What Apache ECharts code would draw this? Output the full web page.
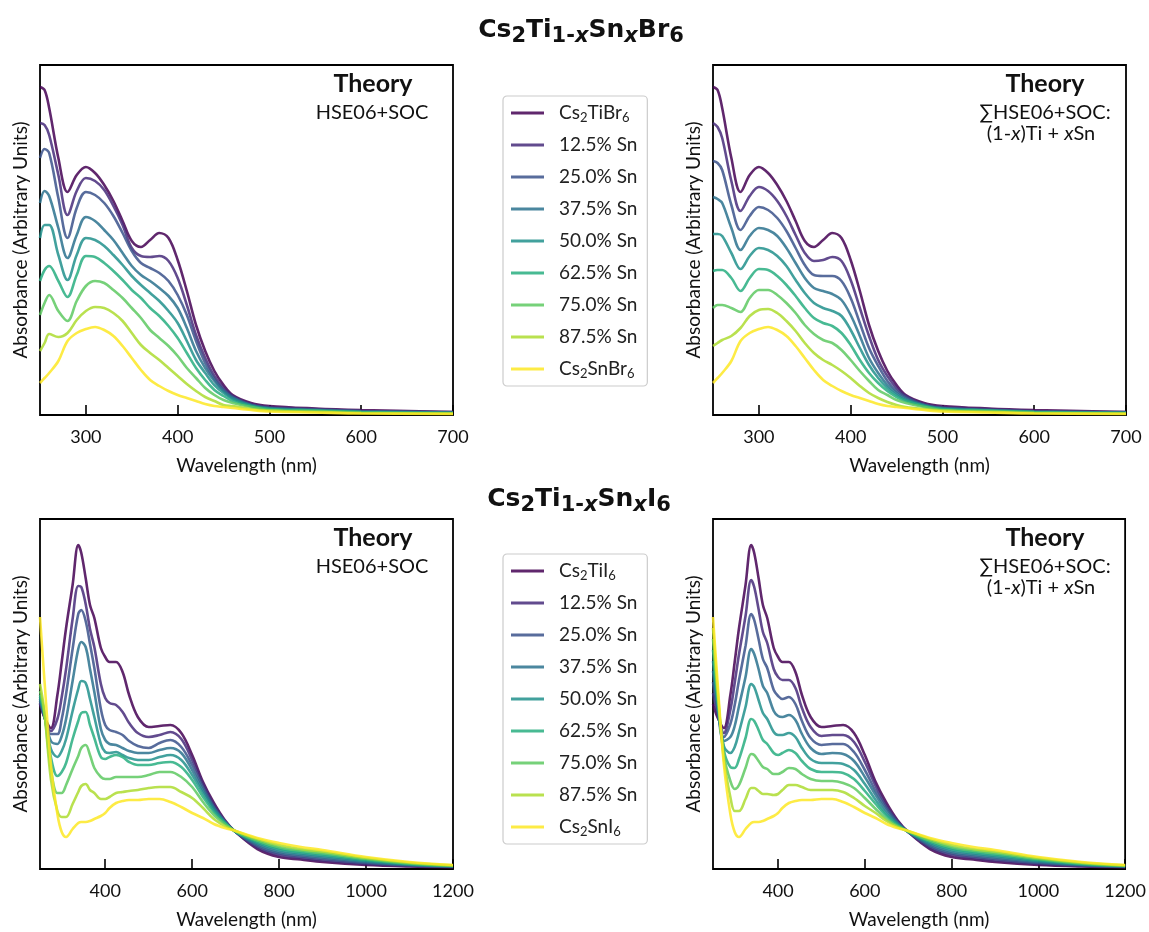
<!DOCTYPE html>
<html>
<head>
<meta charset="utf-8">
<script src="https://cdn.jsdelivr.net/npm/echarts@6/dist/echarts.min.js"></script>
<style>
html, body { margin: 0; padding: 0; background: #fff; }
#chart { width: 1149px; height: 932px; }
</style>
</head>
<body>
<div id="chart"></div>
<script>
// wavelength grids (nm)
var wlBr = [250, 255, 260, 270, 280, 290, 300, 310, 320, 330, 340, 350, 360, 370, 380, 390, 400, 410, 420, 430, 440, 450, 460, 480, 500, 550, 600, 700];
var wlI = [250, 260, 275, 290, 300, 310, 325, 338, 345, 355, 365, 375, 390, 400, 410, 425, 440, 455, 475, 500, 525, 550, 575, 600, 625, 650, 675, 700, 750, 800, 850, 900, 1000, 1100, 1200];

var brNames = ['Cs2TiBr6', '12.5% Sn', '25.0% Sn', '37.5% Sn', '50.0% Sn', '62.5% Sn', '75.0% Sn', '87.5% Sn', 'Cs2SnBr6'];
var iNames = ['Cs2TiI6', '12.5% Sn', '25.0% Sn', '37.5% Sn', '50.0% Sn', '62.5% Sn', '75.0% Sn', '87.5% Sn', 'Cs2SnI6'];

var xTicksBr = [300, 400, 500, 600, 700];
var xTicksI = [400, 600, 800, 1000, 1200];

// absorbance, arbitrary units, one row per composition (Ti -> Sn)
var brHse = [
    [328, 325, 307, 257, 223, 240, 248, 242, 230, 214, 194, 174, 168, 175, 182, 177, 155, 124, 90, 64, 44, 30, 20, 12, 9, 6.5, 5, 3],
    [292, 290, 280, 240, 200, 224, 237, 234, 225, 209, 190, 167, 159, 158, 159, 154, 137, 110, 80, 57, 39, 27, 19, 11, 8, 6, 4, 3],
    [257, 266, 262, 217, 177, 207, 223, 220, 212, 199, 182, 164, 152, 147, 142, 134, 120, 100, 74, 52, 36, 25, 18, 10, 7, 5.5, 4, 2.5],
    [212, 224, 219, 187, 157, 180, 198, 194, 185, 175, 162, 149, 140, 134, 127, 119, 107, 87, 64, 47, 34, 24, 17, 10, 7, 5, 3.5, 2.5],
    [177, 190, 190, 160, 135, 160, 177, 175, 169, 160, 150, 139, 130, 122, 114, 104, 92, 74, 55, 42, 30, 22, 16, 9, 6, 4.5, 3, 2],
    [134, 145, 149, 134, 118, 140, 159, 158, 152, 144, 135, 125, 117, 107, 99, 89, 77, 62, 47, 35, 25, 19, 14, 9, 6, 4.5, 3, 2],
    [100, 112, 120, 104, 94, 114, 129, 134, 132, 125, 117, 107, 97, 85, 77, 69, 59, 47, 37, 27, 20, 15, 12, 8, 5, 4, 2.5, 1.5],
    [64, 72, 81, 78, 82, 95, 104, 108, 107, 102, 94, 82, 70, 62, 55, 47, 39, 31, 24, 18, 14, 10, 9, 6, 4.5, 3, 2, 1.5],
    [32, 37, 42, 54, 74, 82, 86, 88, 85, 79, 69, 57, 45, 35, 29, 24, 20, 17, 14, 11, 9, 8, 7, 5, 3.5, 2.5, 1.5, 1]
];

var brSum = [
    [328, 325, 307, 257, 223, 240, 248, 242, 230, 214, 194, 174, 168, 175, 182, 177, 155, 124, 90, 64, 44, 30, 20, 12, 9, 6.5, 5, 3],
    [292, 288, 277, 234, 204, 219, 228, 224, 214, 199, 180, 162, 154, 155, 158, 154, 135, 107, 79, 55, 39, 27, 19, 11, 8, 6, 4, 3],
    [254, 252, 245, 210, 185, 199, 208, 205, 197, 184, 167, 150, 140, 139, 139, 134, 117, 92, 67, 49, 34, 24, 18, 10, 7, 5, 3.5, 2.5],
    [218, 216, 212, 187, 165, 179, 187, 185, 179, 167, 152, 137, 127, 124, 121, 115, 100, 79, 57, 42, 30, 22, 16, 10, 7, 5, 3.5, 2.5],
    [181, 181, 179, 162, 146, 159, 167, 165, 159, 149, 135, 122, 112, 107, 104, 99, 85, 67, 50, 37, 27, 20, 15, 9, 6, 4.5, 3, 2],
    [144, 145, 145, 137, 124, 137, 146, 145, 139, 130, 119, 107, 97, 92, 89, 82, 70, 55, 42, 32, 24, 18, 14, 9, 6, 4.5, 3, 2],
    [107, 110, 110, 107, 103, 117, 125, 125, 120, 112, 102, 90, 81, 75, 72, 65, 55, 44, 34, 25, 20, 15, 12, 8, 5, 4, 2.5, 1.5],
    [69, 72, 75, 79, 87, 99, 105, 106, 102, 94, 84, 72, 62, 55, 50, 44, 37, 29, 22, 17, 13, 10, 8, 6, 4.5, 3, 2, 1.5],
    [32, 37, 42, 54, 74, 82, 86, 88, 85, 79, 69, 57, 45, 35, 29, 24, 20, 17, 14, 11, 9, 8, 7, 5, 3.5, 2.5, 1.5, 1]
];

var iHse = [
    [165, 152, 141, 174, 207, 241, 284, 324, 316, 291, 264, 251, 221, 212, 207, 207, 197, 174, 152, 142, 143, 144, 136, 114, 87, 66, 49, 37, 20, 12, 9.5, 7, 4, 2.5, 1.7],
    [166, 152, 138, 150, 172, 200, 250, 283, 282, 265, 240, 222, 185, 171, 166, 164, 157, 146, 136, 132, 134, 137, 130, 109, 85, 64, 48, 37, 21.5, 14, 11, 8.5, 5, 3, 2],
    [168, 153, 135, 135, 150, 175, 220, 255, 259, 248, 225, 201, 160, 144, 139, 137, 134, 128, 123, 121, 126, 129, 122, 104, 82, 62, 48, 37, 23, 15.5, 12.5, 10, 6, 3.5, 2.2],
    [170, 153, 128, 125, 133, 150, 188, 220, 227, 222, 200, 177, 140, 129, 125, 124, 121, 118, 116, 116, 119, 121, 116, 99, 79, 61, 47, 37, 24.5, 17, 14, 11.5, 7, 4, 2.5],
    [172, 154, 120, 112, 118, 130, 158, 180, 188, 186, 170, 152, 125, 117, 116, 117, 114, 111, 109, 109, 112, 114, 109, 94, 76, 59, 47, 37, 26, 19, 15.5, 13, 8, 4.5, 2.8],
    [174, 155, 112, 93, 97, 106, 130, 148, 156, 157, 144, 131, 112, 110, 112, 114, 112, 107, 104, 104, 106, 107, 102, 89, 72, 57, 46, 37.5, 27.5, 20.5, 17, 14.5, 9, 5, 3],
    [178, 156, 100, 76, 76, 84, 100, 113, 121, 124, 114, 101, 92, 90, 90, 92, 92, 92, 92, 94, 97, 97, 92, 82, 67, 54, 45, 37.5, 28.5, 22, 18.5, 16, 10, 5.5, 3.3],
    [185, 158, 90, 58, 52, 52, 65, 77, 83, 85, 79, 76, 70, 70, 72, 76, 77, 78, 79, 81, 82, 82, 77, 71, 61, 50, 43, 38, 30, 24, 20, 17.5, 11, 6.3, 3.6],
    [252, 190, 105, 55, 37, 32, 40, 46, 47, 47, 48, 50, 53, 56, 61, 66, 68, 69, 69, 70, 70, 67, 62, 56, 51, 45, 41, 38, 31, 26, 22, 19, 12, 7, 4]
];

var iSum = [
    [165, 152, 141, 174, 207, 241, 284, 324, 316, 291, 264, 251, 221, 212, 207, 207, 197, 174, 152, 142, 143, 144, 136, 114, 87, 66, 49, 37, 20, 12, 9.5, 7, 4, 2.5, 1.7],
    [176, 156, 136, 159, 186, 215, 253, 289, 282, 260, 237, 226, 200, 192, 189, 189, 181, 161, 142, 133, 134, 134, 127, 107, 83, 63, 48, 37, 21.5, 14, 11, 8.5, 5, 3, 2],
    [187, 160, 132, 145, 164, 189, 223, 255, 249, 230, 210, 201, 179, 173, 170, 172, 165, 148, 131, 124, 125, 125, 117, 99, 78, 61, 47, 37, 23, 15.5, 12.5, 10, 6, 3.5, 2.2],
    [198, 165, 128, 132, 143, 163, 192, 220, 215, 200, 183, 176, 158, 153, 152, 154, 149, 135, 121, 115, 116, 115, 108, 92, 74, 58, 46, 37, 24.5, 17, 14, 11.5, 7, 4, 2.5],
    [208, 169, 123, 116, 122, 137, 162, 185, 182, 169, 156, 150, 137, 134, 134, 136, 132, 121, 110, 106, 106, 105, 99, 85, 69, 55, 45, 37, 26, 19, 15.5, 13, 8, 4.5, 2.8],
    [219, 173, 119, 102, 101, 110, 131, 150, 148, 139, 129, 125, 116, 114, 116, 119, 116, 108, 100, 97, 97, 96, 90, 78, 65, 53, 44, 37.5, 27.5, 20.5, 17, 14.5, 9, 5, 3],
    [230, 177, 114, 88, 80, 84, 101, 115, 114, 108, 102, 100, 95, 95, 97, 101, 100, 95, 90, 88, 88, 86, 81, 71, 60, 50, 43, 37.5, 28.5, 22, 18.5, 16, 10, 5.5, 3.3],
    [241, 182, 110, 72, 58, 58, 70, 81, 81, 78, 75, 75, 74, 75, 79, 84, 84, 82, 79, 79, 79, 77, 71, 63, 56, 48, 42, 38, 30, 24, 20, 17.5, 11, 6.3, 3.6],
    [252, 190, 105, 55, 37, 32, 40, 46, 47, 47, 48, 50, 53, 56, 61, 66, 68, 69, 69, 70, 70, 67, 62, 56, 51, 45, 41, 38, 31, 26, 22, 19, 12, 7, 4]
];

// viridis, 9 steps, drawn at alpha 0.85
var colors = [
    'rgba(68,1,84,0.85)', 'rgba(71,44,122,0.85)', 'rgba(59,82,139,0.85)',
    'rgba(44,114,142,0.85)', 'rgba(33,145,140,0.85)', 'rgba(40,174,128,0.85)',
    'rgba(94,201,98,0.85)', 'rgba(173,220,48,0.85)', 'rgba(253,231,37,0.85)'
];

var font = 'Lato, "DejaVu Sans", sans-serif';
var titleFont = '"DejaVu Sans", sans-serif';

var legendLabels = {
    'Cs2TiBr6': 'Cs{s|2}TiBr{s|6}',
    'Cs2SnBr6': 'Cs{s|2}SnBr{s|6}',
    'Cs2TiI6': 'Cs{s|2}TiI{s|6}',
    'Cs2SnI6': 'Cs{s|2}SnI{s|6}'
};

var panels = [
    { wl: wlBr, rows: brHse, names: brNames, left: 40, top: 65, min: 250, max: 700, ticks: xTicksBr },
    { wl: wlBr, rows: brSum, names: brNames, left: 713, top: 65, min: 250, max: 700, ticks: xTicksBr },
    { wl: wlI, rows: iHse, names: iNames, left: 40, top: 519, min: 250, max: 1200, ticks: xTicksI },
    { wl: wlI, rows: iSum, names: iNames, left: 713, top: 519, min: 250, max: 1200, ticks: xTicksI }
];

var grids = [], xAxes = [], yAxes = [], series = [];

panels.forEach(function (p, g) {
    grids.push({
        left: p.left, top: p.top, width: 413, height: 350,
        show: true, borderColor: '#000', borderWidth: 1.8, backgroundColor: 'transparent'
    });
    xAxes.push({
        type: 'value', gridIndex: g, min: p.min, max: p.max,
        axisLine: { show: false },
        axisTick: { show: true, inside: true, length: 10, customValues: p.ticks, lineStyle: { color: '#000', width: 1.6 } },
        axisLabel: {
            customValues: p.ticks, fontSize: 18, color: '#111', margin: 13, fontFamily: font,
            formatter: function (v) { return String(v); }
        },
        splitLine: { show: false },
        name: 'Wavelength (nm)', nameLocation: 'middle', nameGap: 41,
        nameTextStyle: { fontSize: 19, color: '#111', fontFamily: font }
    });
    yAxes.push({
        type: 'value', gridIndex: g, min: 0, max: 350,
        axisLine: { show: false }, axisTick: { show: false }, axisLabel: { show: false },
        splitLine: { show: false },
        name: 'Absorbance (Arbitrary Units)', nameLocation: 'middle', nameGap: 10, nameRotate: 90,
        nameTextStyle: { fontSize: 19, color: '#111', fontFamily: font }
    });
    p.rows.forEach(function (row, k) {
        series.push({
            type: 'line', name: p.names[k], xAxisIndex: g, yAxisIndex: g,
            data: p.wl.map(function (x, i) { return [x, row[i]]; }),
            symbol: 'none', smooth: 0.35, clip: true,
            color: colors[k],
            lineStyle: { color: colors[k], width: 2.6 },
            emphasis: { disabled: true }
        });
    });
});

function legendAt(top, names) {
    return {
        orient: 'vertical', left: 503, top: top, data: names,
        backgroundColor: '#fff', borderColor: '#ccc', borderWidth: 1.2, borderRadius: 4,
        padding: [6, 10, 6, 8], itemGap: 10, itemWidth: 33, itemHeight: 3,
        icon: 'rect',
        selectedMode: false,
        formatter: function (n) { return legendLabels[n] || n; },
        textStyle: {
            fontSize: 19, color: '#222', fontFamily: font, lineHeight: 22, padding: [0, 0, 0, 10],
            rich: { s: { fontSize: 13, lineHeight: 22, verticalAlign: 'bottom', fontFamily: font, color: '#222' } }
        }
    };
}

var titleRich = {
    m: { fontSize: 25, fontWeight: 'bold', lineHeight: 34, fontFamily: titleFont, fill: '#111' },
    s: { fontSize: 21, fontWeight: 'bold', lineHeight: 34, verticalAlign: 'bottom', fontFamily: titleFont, fill: '#111' },
    si: { fontSize: 21, fontWeight: 'bold', fontStyle: 'italic', lineHeight: 34, verticalAlign: 'bottom', fontFamily: titleFont, fill: '#111' }
};
var noteRich = {
    n: { fontSize: 20, fontFamily: font, fill: '#111' },
    i: { fontSize: 20, fontStyle: 'italic', fontFamily: font, fill: '#111' }
};

function txt(x, y, text, size, bold) {
    return {
        type: 'text', x: x, y: y, z: 100,
        style: {
            text: text, fill: '#111', align: 'center', verticalAlign: 'middle',
            font: (bold ? 'bold ' : '') + size + 'px ' + font, rich: noteRich
        }
    };
}

var graphics = [
    {
        type: 'text', x: 581, y: 30, z: 100,
        style: { text: '{m|Cs}{s|2}{m|Ti}{s|1-}{si|x}{m|Sn}{si|x}{m|Br}{s|6}', align: 'center', verticalAlign: 'middle', rich: titleRich }
    },
    {
        type: 'text', x: 579, y: 499, z: 100,
        style: { text: '{m|Cs}{s|2}{m|Ti}{s|1-}{si|x}{m|Sn}{si|x}{m|I}{s|6}', align: 'center', verticalAlign: 'middle', rich: titleRich }
    },
    txt(373, 84, 'Theory', 25, true),
    txt(372, 113, '{n|HSE06+SOC}', 20, false),
    txt(1045, 84, 'Theory', 25, true),
    txt(1045, 113, '{n|∑HSE06+SOC:}', 20, false),
    txt(1041, 134, '{n|(1-}{i|x}{n|)Ti + }{i|x}{n|Sn}', 20, false),
    txt(373, 538, 'Theory', 25, true),
    txt(372, 567, '{n|HSE06+SOC}', 20, false),
    txt(1045, 538, 'Theory', 25, true),
    txt(1045, 567, '{n|∑HSE06+SOC:}', 20, false),
    txt(1041, 588, '{n|(1-}{i|x}{n|)Ti + }{i|x}{n|Sn}', 20, false)
];

var option = {
    animation: false,
    backgroundColor: '#fff',
    grid: grids,
    xAxis: xAxes,
    yAxis: yAxes,
    legend: [legendAt(96, brNames), legendAt(554, iNames)],
    series: series,
    graphic: graphics
};

window.onload = function () {
    var chart = echarts.init(document.getElementById('chart'));
    chart.setOption(option);
};
</script>
</body>
</html>
